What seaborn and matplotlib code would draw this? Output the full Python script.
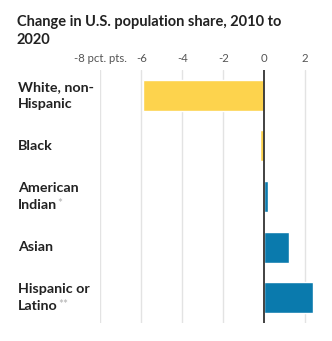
import matplotlib
matplotlib.use("Agg")
import matplotlib.pyplot as plt
import seaborn as sns
import pandas as pd

# Change in share of the U.S. population, 2010 to 2020 (percentage points)
categories = ["White, non-Hispanic", "Black", "American Indian", "Asian", "Hispanic or Latino"]
label_lines = [["White, non-", "Hispanic"], ["Black"], ["American", "Indian"], ["Asian"], ["Hispanic or", "Latino"]]
footnote_marks = ["", "", "*", "", "**"]
changes = [-5.9, -0.2, 0.2, 1.2, 2.4]
bar_colors = ["#fdd34d", "#fdd34d", "#0a7aad", "#0a7aad", "#0a7aad"]
tick_values = [-8, -6, -4, -2, 0, 2]
tick_labels = ["-8 pct. pts.", "-6", "-4", "-2", "0", "2"]

sns.set_theme(style="white")
plt.rcParams["font.family"] = ["Lato", "DejaVu Sans"]

df = pd.DataFrame({"group": categories, "change": changes})

fig = plt.figure(figsize=(3.32, 3.41), dpi=100)
ax = fig.add_axes([0.3027, 0.0528, 0.6476, 0.7419])

sns.barplot(data=df, x="change", y="group", hue="group", palette=bar_colors,
            legend=False, width=0.61, ax=ax, saturation=1, zorder=3)

ax.set_xlim(-8, 2.5)
ax.set_ylim(4.5, -0.5)
ax.set_xlabel("")
ax.set_ylabel("")
ax.set_yticks([])
ax.xaxis.tick_top()
ax.set_xticks(tick_values)
ax.set_xticklabels(tick_labels)
ax.tick_params(axis="x", length=0, pad=4, labelsize=8.2, labelcolor="#555555")
for spine in ax.spines.values():
    spine.set_visible(False)

for v in tick_values:
    if v == 0:
        ax.axvline(v, color="#333333", lw=1.3, zorder=4)
    else:
        ax.axvline(v, color="#e3e3e3", lw=1.0, zorder=1)

# Category labels at the left, with footnote marks after the last line
line_gap = 6.0
for i, (lines, mark) in enumerate(zip(label_lines, footnote_marks)):
    n = len(lines)
    last = None
    for j, line in enumerate(lines):
        offset = 0 if n == 1 else (line_gap if j == 0 else -line_gap)
        last = ax.annotate(line, xy=(0.054, i), xycoords=(fig.transFigure, ax.transData),
                           xytext=(0, offset), textcoords="offset points",
                           ha="left", va="center", fontsize=10.3, fontweight="bold",
                           color="#222222", annotation_clip=False)
    if mark:
        ax.annotate(mark, xy=(1, 1.0), xycoords=last, xytext=(0.3, 0.5),
                    textcoords="offset points", ha="left", va="top",
                    fontsize=8.5, color="#b0b0b0", annotation_clip=False)

fig.text(0.051, 0.955, "Change in U.S. population share, 2010 to\n2020",
         ha="left", va="top", fontsize=10.5, fontweight="bold", color="#222222",
         linespacing=1.35)

fig.savefig("out.png", dpi=100)
